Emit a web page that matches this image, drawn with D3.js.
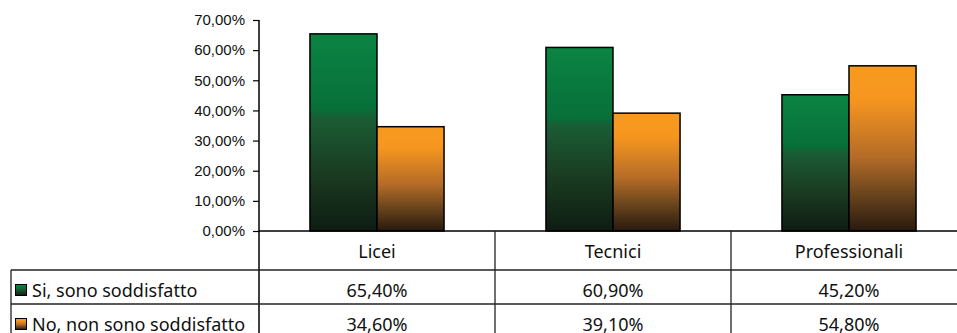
<!DOCTYPE html>
<html>
<head>
<meta charset="utf-8">
<script src="https://cdn.jsdelivr.net/npm/d3@7"></script>
<style>
  body { margin: 0; background: #fff; }
  svg { display: block; }
</style>
</head>
<body>
<div id="chart"></div>
<script>
const categories = ['Licei', 'Tecnici', 'Professionali'];
const seriesNames = ['Si, sono soddisfatto', 'No, non sono soddisfatto'];
const siValues = [0.654, 0.609, 0.452];
const noValues = [0.346, 0.391, 0.548];
const yTicks = [0, 0.1, 0.2, 0.3, 0.4, 0.5, 0.6, 0.7];

const W = 957, H = 333;
const plotLeft = 259, plotRight = 967, plotTop = 20, plotBottom = 231;
const rowLines = [270, 304, 338];

const svg = d3.select('#chart').append('svg')
  .attr('width', W)
  .attr('height', H);

// gradients, one per series
const defs = svg.append('defs');
const gradStops = [
  [[0, '#0b8443'], [0.38, '#077039'], [0.43, '#1a5c34'], [0.72, '#1a3a20'], [1, '#0e1c13']],
  [[0, '#f89a1f'], [0.2, '#f6961f'], [0.55, '#b56c28'], [0.8, '#62401b'], [1, '#29190e']]
];
gradStops.forEach((stops, i) => {
  const g = defs.append('linearGradient')
    .attr('id', 'grad' + i)
    .attr('x1', 0).attr('y1', 0).attr('x2', 0).attr('y2', 1);
  stops.forEach(([o, c]) => g.append('stop').attr('offset', o).attr('stop-color', c));
});

const x = d3.scaleBand()
  .domain(categories)
  .range([plotLeft, plotRight]);

const xInner = d3.scaleBand()
  .domain([0, 1])
  .range([0, x.bandwidth()])
  .paddingOuter(0.76);

const y = d3.scaleLinear()
  .domain([0, 0.7])
  .range([plotBottom, plotTop]);

const fmt = v => d3.format('.2f')(v * 100).replace('.', ',') + '%';

// y axis
const yAxis = svg.append('g')
  .attr('transform', `translate(${plotLeft},0)`)
  .call(d3.axisLeft(y).tickValues(yTicks).tickSize(6).tickPadding(8).tickFormat(fmt));
yAxis.select('.domain').remove();
yAxis.selectAll('.tick line').attr('stroke', '#000').attr('stroke-width', 1.2);
yAxis.selectAll('text')
  .attr('fill', '#111')
  .style('font-family', '"Liberation Sans", Arial, sans-serif')
  .style('font-size', '15px');

// bars
const rows = categories.map((c, i) => ({ cat: c, vals: [siValues[i], noValues[i]] }));
const groups = svg.selectAll('.grp')
  .data(rows)
  .enter()
  .append('g')
  .attr('transform', d => `translate(${x(d.cat)},0)`);

groups.selectAll('rect')
  .data(d => d.vals.map((v, i) => ({ v, i })))
  .enter()
  .append('rect')
  .attr('x', d => xInner(d.i))
  .attr('width', xInner.bandwidth())
  .attr('y', d => y(d.v))
  .attr('height', d => y(0) - y(d.v))
  .attr('fill', d => `url(#grad${d.i})`)
  .attr('stroke', '#000')
  .attr('stroke-width', 1.5);

// axis lines
svg.append('line')
  .attr('x1', plotLeft).attr('x2', W)
  .attr('y1', y(0)).attr('y2', y(0))
  .attr('stroke', '#000').attr('stroke-width', 1.5);
svg.append('line')
  .attr('x1', plotLeft).attr('x2', plotLeft)
  .attr('y1', plotTop).attr('y2', H)
  .attr('stroke', '#000').attr('stroke-width', 1.5);

// data table grid
const tableLeft = 11;
rowLines.forEach(ry => {
  svg.append('line')
    .attr('x1', tableLeft).attr('x2', W)
    .attr('y1', ry).attr('y2', ry)
    .attr('stroke', '#222').attr('stroke-width', 1.3);
});
svg.append('line')
  .attr('x1', tableLeft).attr('x2', tableLeft)
  .attr('y1', rowLines[0]).attr('y2', H)
  .attr('stroke', '#222').attr('stroke-width', 1.3);
categories.slice(1).forEach(c => {
  svg.append('line')
    .attr('x1', x(c)).attr('x2', x(c))
    .attr('y1', y(0)).attr('y2', H)
    .attr('stroke', '#222').attr('stroke-width', 1.3);
});

const tableFont = '"Noto Sans", "Open Sans", sans-serif';

// header row
svg.selectAll('.hdr')
  .data(categories)
  .enter()
  .append('text')
  .attr('x', d => x(d) + x.bandwidth() / 2)
  .attr('y', 258)
  .attr('text-anchor', 'middle')
  .style('font-family', tableFont)
  .style('font-size', '18px')
  .attr('fill', '#111')
  .text(d => d);

const baselines = [297, 331];
[siValues, noValues].forEach((vals, si) => {
  // legend key
  svg.append('rect')
    .attr('x', 15.5).attr('y', baselines[si] - 12.5)
    .attr('width', 11).attr('height', 11)
    .attr('fill', `url(#grad${si})`)
    .attr('stroke', '#000').attr('stroke-width', 1);
  svg.append('text')
    .attr('x', 32).attr('y', baselines[si])
    .style('font-family', tableFont)
    .style('font-size', '18px')
    .attr('fill', '#111')
    .text(seriesNames[si]);
  svg.selectAll('.val' + si)
    .data(vals)
    .enter()
    .append('text')
    .attr('x', (d, i) => x(categories[i]) + x.bandwidth() / 2)
    .attr('y', baselines[si])
    .attr('text-anchor', 'middle')
    .style('font-family', tableFont)
    .style('font-size', '18px')
    .attr('fill', '#111')
    .text(d => fmt(d));
});
</script>
</body>
</html>
